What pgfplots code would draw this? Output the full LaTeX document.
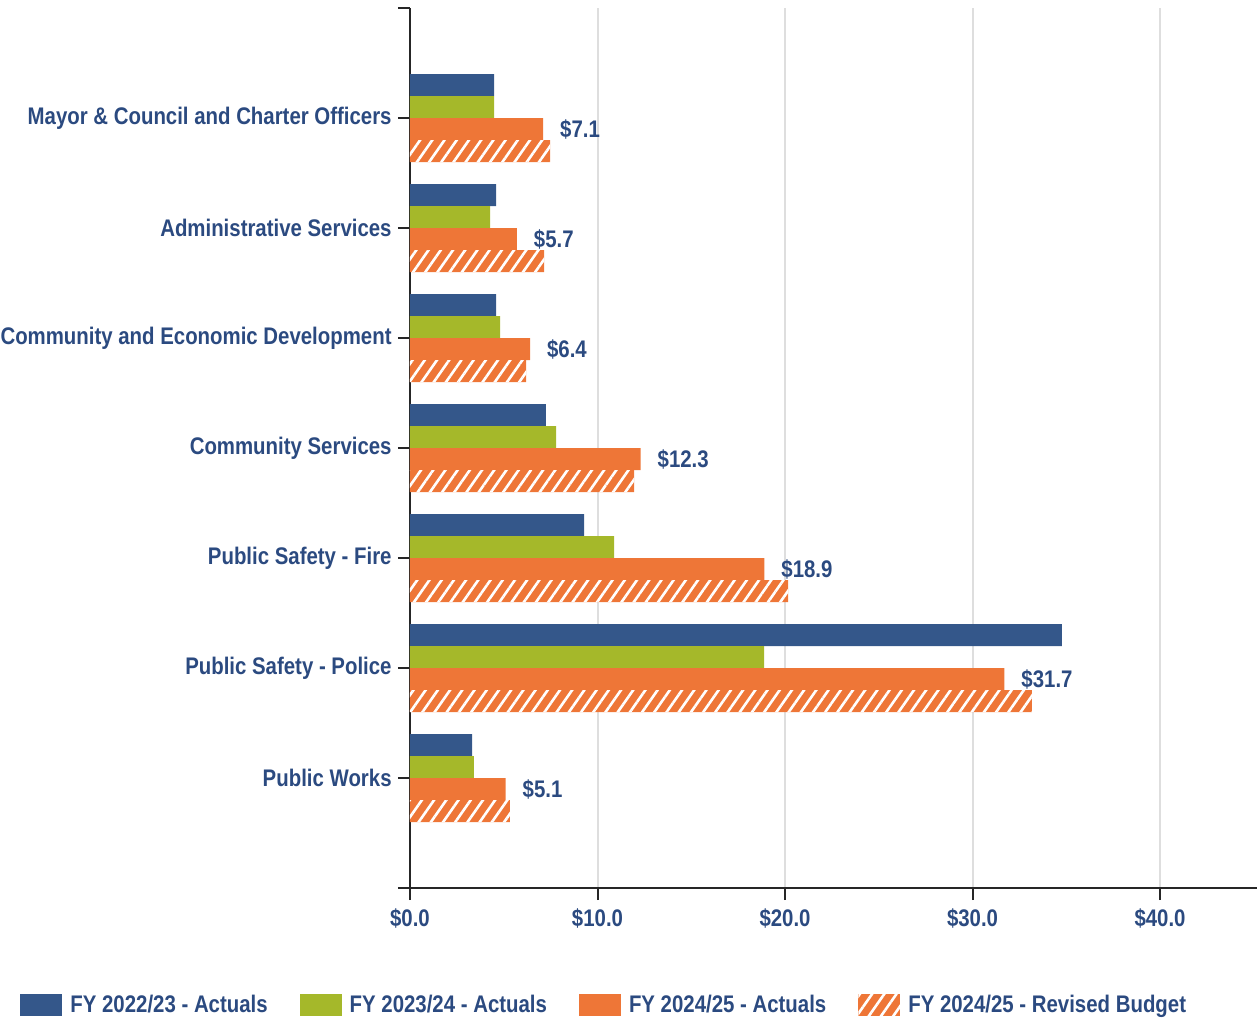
\documentclass[border=0pt]{standalone}
\usepackage{pgfplots}
\pgfplotsset{compat=1.18}
\usepackage{fontspec}
\setmainfont{Liberation Sans}[FakeStretch=0.85]
\usetikzlibrary{patterns.meta}
\definecolor{txt}{HTML}{2B4A80}
\definecolor{cblue}{HTML}{34578A}
\definecolor{cgreen}{HTML}{A5B82A}
\definecolor{corange}{HTML}{EE7637}
\definecolor{gridc}{HTML}{DEDEDE}
\begin{document}
\begin{tikzpicture}
\begin{axis}[
  at={(0,0)}, anchor=south west,
  scale only axis, width=423.5pt, height=440pt,
  xmin=0, xmax=45.17, ymin=-1, ymax=7, y dir=reverse,
  axis x line*=bottom, axis y line*=left,
  axis line style={line width=1pt, color=black!85},
  every tick/.style={line width=1pt, color=black!85},
  tick align=outside, major tick length=6pt,
  xtick={0,10,20,30,40},
  xticklabels={\$0.0,\$10.0,\$20.0,\$30.0,\$40.0},
  ytick={0,1,2,3,4,5,6},
  yticklabels={Mayor \& Council and Charter Officers, Administrative Services, Community and Economic Development, Community Services, Public Safety - Fire, Public Safety - Police, Public Works},
  extra y ticks={-1,7}, extra y tick labels={},
  extra y tick style={grid=none},
  xmajorgrids, grid style={line width=1pt, color=gridc},
  ticklabel style={font=\bfseries\fontsize{12}{14}\selectfont, text=txt},
  yticklabel style={inner sep=0pt, xshift=-3pt},
  xticklabel style={inner sep=0pt, yshift=-4pt},
  xbar, bar width=0.2,
  legend columns=4,
  legend style={draw=none, inner sep=0pt, at={(-0.4604,-0.133)}, anchor=west,
    font=\bfseries\fontsize{12}{14}\selectfont, text=txt,
    /tikz/every odd column/.append style={column sep=2pt},
    /tikz/every even column/.append style={column sep=14pt}},
  legend cell align=left,
  legend image code/.code={\draw[#1,draw=none] (0pt,-5.5pt) rectangle (21pt,5.5pt);},
  clip=false,
]
\addplot[fill=cblue, draw=none, bar shift=-0.3] coordinates {(4.48,0) (4.59,1) (4.59,2) (7.25,3) (9.28,4) (34.77,5) (3.31,6)};
\addlegendentry{FY 2022/23 - Actuals}
\addplot[fill=cgreen, draw=none, bar shift=-0.1] coordinates {(4.48,0) (4.27,1) (4.8,2) (7.79,3) (10.88,4) (18.88,5) (3.41,6)};
\addlegendentry{FY 2023/24 - Actuals}
\addplot[fill=corange, draw=none, bar shift=0.1,
  nodes near coords={\$\pgfmathprintnumber[fixed,precision=1,fixed zerofill,assume math mode=true]{\pgfplotspointmeta}},
  every node near coord/.append style={anchor=west, xshift=5pt, font=\bfseries\fontsize{12}{14}\selectfont, text=txt}]
  coordinates {(7.1,0) (5.7,1) (6.4,2) (12.3,3) (18.9,4) (31.7,5) (5.1,6)};
\addlegendentry{FY 2024/25 - Actuals}
\addplot[fill=corange, draw=none, bar shift=0.3,
  postaction={pattern={Lines[angle=55,distance=5pt,line width=1.3pt]}, pattern color=white}]
  coordinates {(7.47,0) (7.15,1) (6.19,2) (11.95,3) (20.16,4) (33.17,5) (5.33,6)};
\addlegendentry{FY 2024/25 - Revised Budget}
\end{axis}
\pgfresetboundingbox
\path (-205pt,-65.5pt) rectangle (423.5pt,444pt);
\end{tikzpicture}
\end{document}
